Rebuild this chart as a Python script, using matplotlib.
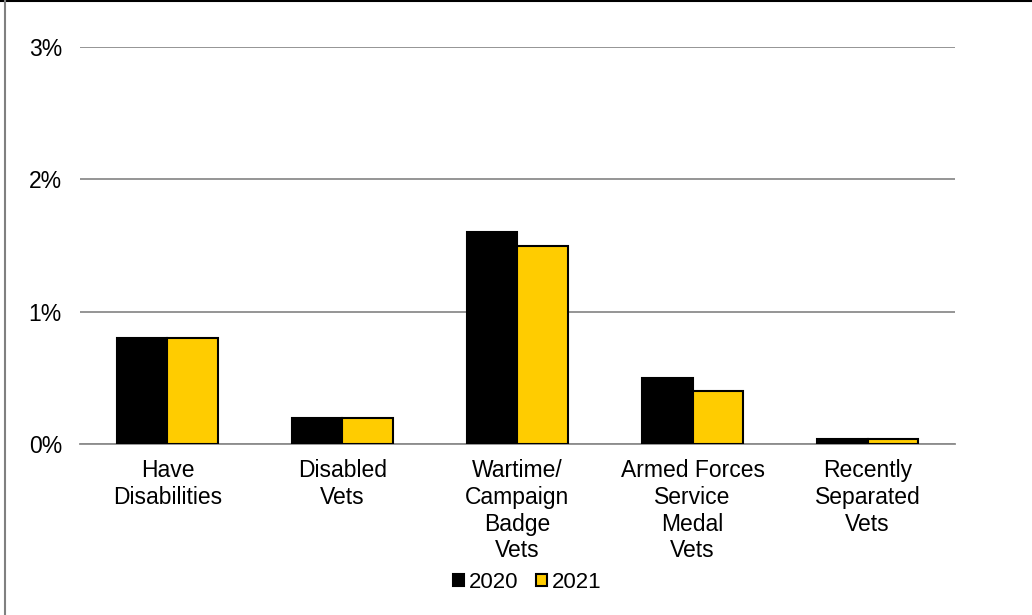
import numpy as np
import matplotlib.pyplot as plt
from matplotlib.lines import Line2D
from matplotlib.ticker import FuncFormatter

plt.rcParams['font.family'] = ['Liberation Sans', 'DejaVu Sans']

categories = ['Have\nDisabilities', 'Disabled\nVets', 'Wartime/\nCampaign\nBadge\nVets',
              'Armed Forces\nService\nMedal\nVets', 'Recently\nSeparated\nVets']
vals_2020 = [0.8, 0.2, 1.6, 0.5, 0.04]
vals_2021 = [0.8, 0.2, 1.5, 0.4, 0.04]
years = ['2020', '2021']

fig = plt.figure(figsize=(10.32, 6.15), dpi=100)
ax = fig.add_axes([0.0775, 0.278, 0.8479, 0.6456])

x = np.arange(len(categories))
w = 0.29
ax.bar(x - w / 2, vals_2020, w, color='black', edgecolor='black', linewidth=1.5,
       label=years[0], zorder=3)
ax.bar(x + w / 2, vals_2021, w, color='#FFCC00', edgecolor='black', linewidth=1.5,
       label=years[1], zorder=3)

ax.set_xlim(-0.5, len(categories) - 0.5)
ax.set_ylim(0, 3)
ax.set_yticks([0, 1, 2, 3])
ax.yaxis.set_major_formatter(FuncFormatter(lambda v, p: f'{v:.0f}%'))
ax.grid(axis='y', color='#8c8c8c', linewidth=1.3, zorder=0)
ax.set_xticks(x)
ax.set_xticklabels(categories, fontsize=16.5, linespacing=1.2)
ax.tick_params(axis='y', labelsize=16.5, length=0, pad=13)
ax.tick_params(axis='x', length=0, pad=11)
for s in ['top', 'right', 'left']:
    ax.spines[s].set_visible(False)
ax.spines['bottom'].set_color('#8c8c8c')
ax.spines['bottom'].set_linewidth(1.3)

fig.legend(loc='center', bbox_to_anchor=(0.511, 0.053), ncol=2, frameon=False,
           fontsize=16, handlelength=0.5, handleheight=0.5, handletextpad=0.2,
           columnspacing=0.8)

# frame around the chart area
fig.add_artist(Line2D([0, 1], [0.998, 0.998], color='black', linewidth=1.5,
                      transform=fig.transFigure))
fig.add_artist(Line2D([0.005, 0.005], [0, 0.998], color='#808080', linewidth=1.5,
                      transform=fig.transFigure))

fig.savefig('out.png', dpi=100)
